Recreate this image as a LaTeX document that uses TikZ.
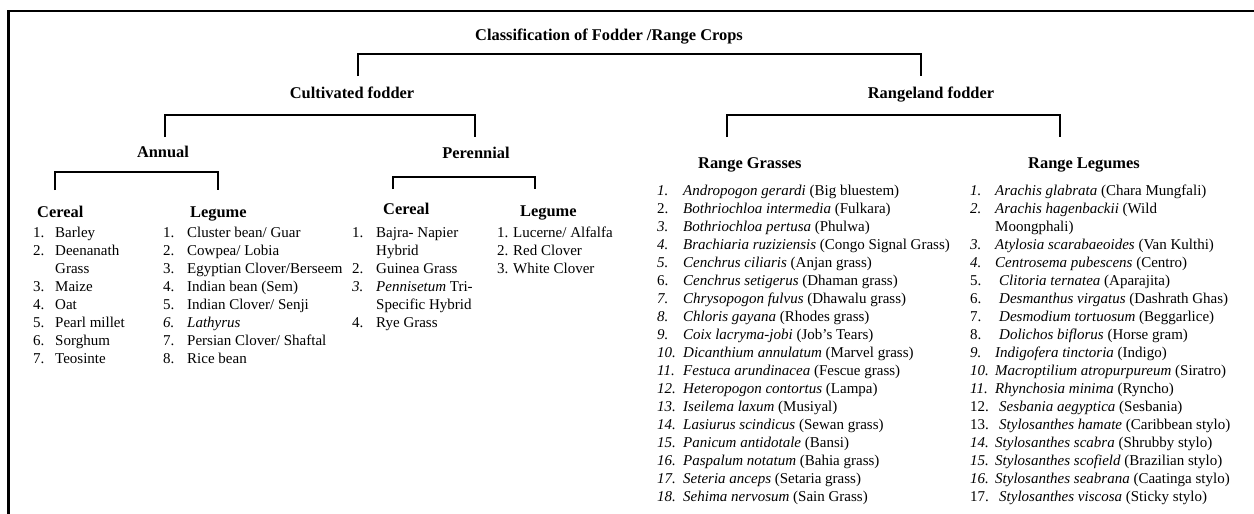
\documentclass[tikz,border=0pt]{standalone}
\usepackage{fontspec}
\setmainfont{Liberation Serif}
\usepackage{array}
\newcommand\hdfont{\fontsize{16.4pt}{19pt}\selectfont\bfseries}
\newcommand\lsfont{\fontsize{15pt}{18pt}\selectfont}
\tikzset{
  bracket/.style={line width=2.6pt},
  head/.style={font=\hdfont,inner sep=0pt},
  list/.style={font=\lsfont,inner sep=0pt,anchor=base west}
}
\begin{document}
\begin{tikzpicture}[x=1pt,y=-1pt]

        \useasboundingbox (0,0) rectangle (1254,514);
        \draw[line width=2.8pt] (8.5,514) -- (8.5,11) -- (1254,11);

        \begin{scope}[every node/.style={head,anchor=base}]
          \node (title)     at (609,40.5)  {Classification of Fodder /Range Crops};
          \node (cult)      at (352,98.5)  {Cultivated fodder};
          \node (range)     at (931,98.5)  {Rangeland fodder};
          \node (annual)    at (163,157.5) {Annual};
          \node (perennial) at (476,158.5) {Perennial};
        \end{scope}

        \begin{scope}[every node/.style={head,anchor=base west}]
          \node (grasses) at (698,168.5)  {Range Grasses};
          \node (legumes) at (1028,168.5) {Range Legumes};
          \node (acereal) at (37,217.5)   {Cereal};
          \node (alegume) at (190,217.5)  {Legume};
          \node (pcereal) at (383,214.5)  {Cereal};
          \node (plegume) at (520,216.5)  {Legume};
        \end{scope}

        % bracket feet
        \coordinate (b-cult)    at (358,76);
        \coordinate (b-range)   at (921,76);
        \coordinate (b-annual)  at (165,137);
        \coordinate (b-peren)   at (475,137);
        \coordinate (b-grass)   at (727,137);
        \coordinate (b-legume)  at (1060,137);
        \coordinate (b-acereal) at (55,190);
        \coordinate (b-alegume) at (218,190);
        \coordinate (b-pcereal) at (393,189);
        \coordinate (b-plegume) at (535,189);

        \draw[bracket] (b-cult) -- ++(0,-22) -| (b-range);
        \draw[bracket] (b-annual) -- ++(0,-22) -| (b-peren);
        \draw[bracket] (b-grass) -- ++(0,-22) -| (b-legume);
        \draw[bracket] (b-acereal) -- ++(0,-18) -| (b-alegume);
        \draw[bracket] (b-pcereal) -- ++(0,-12) -| (b-plegume);

        \node[list] (acerlist) at (33,237) {\begin{tabular}[t]{@{}p{22pt}@{}l@{}}
          1. & Barley\\ 2. & Deenanath\\ & Grass\\ 3. & Maize\\ 4. & Oat\\
          5. & Pearl millet\\ 6. & Sorghum\\ 7. & Teosinte
        \end{tabular}};

        \node[list] (aleglist) at (163,237) {\begin{tabular}[t]{@{}p{24pt}@{}l@{}}
          1. & Cluster bean/ Guar\\ 2. & Cowpea/ Lobia\\ 3. & Egyptian Clover/Berseem\\
          4. & Indian bean (Sem)\\ 5. & Indian Clover/ Senji\\ \textit{6.} & \textit{Lathyrus}\\
          7. & Persian Clover/ Shaftal\\ 8. & Rice bean
        \end{tabular}};

        \node[list] (pcerlist) at (352,237) {\begin{tabular}[t]{@{}p{24pt}@{}l@{}}
          1. & Bajra- Napier\\ & Hybrid\\ 2. & Guinea Grass\\
          \textit{3.} & \textit{Pennisetum} Tri-\\ & Specific Hybrid\\ 4. & Rye Grass
        \end{tabular}};

        \node[list] (pleglist) at (497,237) {\begin{tabular}[t]{@{}p{16pt}@{}l@{}}
          1. & Lucerne/ Alfalfa\\ 2. & Red Clover\\ 3. & White Clover
        \end{tabular}};

        \node[list] (grasslist) at (657,195) {\begin{tabular}[t]{@{}p{26pt}@{}l@{}}
          \textit{1.} & \textit{Andropogon gerardi} (Big bluestem)\\
          2. & \textit{Bothriochloa intermedia} (Fulkara)\\
          \textit{3.} & \textit{Bothriochloa pertusa} (Phulwa)\\
          \textit{4.} & \textit{Brachiaria ruziziensis} (Congo Signal Grass)\\
          \textit{5.} & \textit{Cenchrus ciliaris} (Anjan grass)\\
          6. & \textit{Cenchrus setigerus} (Dhaman grass)\\
          \textit{7.} & \textit{Chrysopogon fulvus} (Dhawalu grass)\\
          \textit{8.} & \textit{Chloris gayana} (Rhodes grass)\\
          \textit{9.} & \textit{Coix lacryma-jobi} (Job's Tears)\\
          \textit{10.} & \textit{Dicanthium annulatum} (Marvel grass)\\
          \textit{11.} & \textit{Festuca arundinacea} (Fescue grass)\\
          \textit{12.} & \textit{Heteropogon contortus} (Lampa)\\
          \textit{13.} & \textit{Iseilema laxum} (Musiyal)\\
          \textit{14.} & \textit{Lasiurus scindicus} (Sewan grass)\\
          \textit{15.} & \textit{Panicum antidotale} (Bansi)\\
          \textit{16.} & \textit{Paspalum notatum} (Bahia grass)\\
          \textit{17.} & \textit{Seteria anceps} (Setaria grass)\\
          \textit{18.} & \textit{Sehima nervosum} (Sain Grass)
        \end{tabular}};

        \node[list] (legumelist) at (970,195) {\begin{tabular}[t]{@{}p{25pt}@{}l@{}}
          \textit{1.} & \textit{Arachis glabrata} (Chara Mungfali)\\
          \textit{2.} & \textit{Arachis hagenbackii} (Wild\\ & Moongphali)\\
          \textit{3.} & \textit{Atylosia scarabaeoides} (Van Kulthi)\\
          \textit{4.} & \textit{Centrosema pubescens} (Centro)\\
          5. & \hspace{4pt}\textit{Clitoria ternatea} (Aparajita)\\
          6. & \hspace{4pt}\textit{Desmanthus virgatus} (Dashrath Ghas)\\
          7. & \hspace{4pt}\textit{Desmodium tortuosum} (Beggarlice)\\
          8. & \hspace{4pt}\textit{Dolichos biflorus} (Horse gram)\\
          \textit{9.} & \textit{Indigofera tinctoria} (Indigo)\\
          \textit{10.} & \textit{Macroptilium atropurpureum} (Siratro)\\
          \textit{11.} & \textit{Rhynchosia minima} (Ryncho)\\
          12. & \hspace{4pt}\textit{Sesbania aegyptica} (Sesbania)\\
          13. & \hspace{4pt}\textit{Stylosanthes hamate} (Caribbean stylo)\\
          \textit{14.} & \textit{Stylosanthes scabra} (Shrubby stylo)\\
          \textit{15.} & \textit{Stylosanthes scofield} (Brazilian stylo)\\
          \textit{16.} & \textit{Stylosanthes seabrana} (Caatinga stylo)\\
          17. & \hspace{4pt}\textit{Stylosanthes viscosa} (Sticky stylo)
        \end{tabular}};

\end{tikzpicture}
\end{document}
